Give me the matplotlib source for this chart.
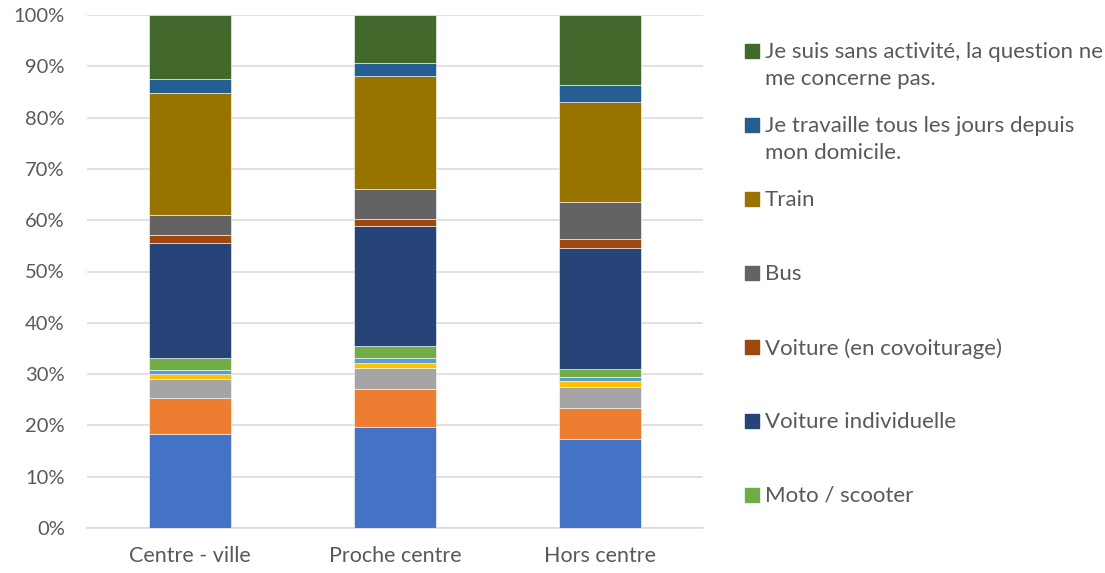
import numpy as np
import matplotlib
matplotlib.use("Agg")
import matplotlib.pyplot as plt
from matplotlib.patches import Rectangle

plt.rcParams['font.family'] = ['Lato', 'DejaVu Sans']

# categories (x axis)
categories = ['Centre - ville', 'Proche centre', 'Hors centre']

# series, bottom to top of each bar (share in %)
series_names = [
    'Marche à pied',
    'Vélo',
    'Trottinette',
    'Vélo à assistance électrique',
    'Tramway',
    'Moto / scooter',
    'Voiture individuelle',
    'Voiture (en covoiturage)',
    'Bus',
    'Train',
    'Je travaille tous les jours depuis\nmon domicile.',
    'Je suis sans activité, la question ne\nme concerne pas.',
]
series_values = [
    [18.4, 19.6, 17.3],
    [7.0, 7.4, 6.0],
    [3.6, 4.2, 4.2],
    [1.0, 1.0, 1.2],
    [0.8, 1.0, 0.7],
    [2.3, 2.3, 1.6],
    [22.5, 23.3, 23.6],
    [1.5, 1.4, 1.8],
    [4.0, 5.8, 7.2],
    [23.6, 22.2, 19.4],
    [2.9, 2.4, 3.3],
    [12.4, 9.4, 13.7],
]
series_colors = ['#4472C4', '#ED7D31', '#A5A5A5', '#FFC000', '#5B9BD5', '#70AD47',
                 '#264478', '#9E480E', '#636363', '#997300', '#255E91', '#43682B']

# only the last 7 series appear in the legend (top entry first)
n_legend = 7

text_col = '#595959'
grid_col = '#D9D9D9'

fig = plt.figure(figsize=(11.05, 5.73), dpi=100)
ax = fig.add_axes([87 / 1105, 1 - 528 / 573, 616 / 1105, 513 / 573])

x = np.arange(len(categories))
vals = np.array(series_values, dtype=float)
totals = vals.sum(axis=0)
shares = vals / totals  # normalise to 100%

bottom = np.zeros(len(categories))
for name, row, col in zip(series_names, shares, series_colors):
    ax.bar(x, row, 0.4, bottom=bottom, color=col, edgecolor='white',
           linewidth=0.4, label=name, zorder=3)
    bottom += row

ax.set_xlim(-0.5, len(categories) - 0.5)
ax.set_ylim(0, 1)
ax.set_yticks(np.arange(0, 1.01, 0.1))
ax.set_yticklabels([f'{int(round(t * 100))}%' for t in np.arange(0, 1.01, 0.1)])
ax.set_xticks(x)
ax.set_xticklabels(categories)

ax.yaxis.grid(True, color=grid_col, linewidth=1.1, zorder=0)
for s in ['top', 'right', 'left']:
    ax.spines[s].set_visible(False)
ax.spines['bottom'].set_color(grid_col)
ax.spines['bottom'].set_linewidth(1.1)
ax.tick_params(axis='both', length=0, labelcolor=text_col)
ax.tick_params(axis='y', pad=16, labelsize=14.5)
ax.tick_params(axis='x', pad=13, labelsize=15.5)

# legend drawn by hand so every entry gets the same slot, like Excel
leg_idx = list(range(len(series_names)))[::-1][:n_legend]
for k, i in enumerate(leg_idx):
    yc = 51 + 74.0 * k
    fig.patches.append(Rectangle((745 / 1105, 1 - (yc + 7) / 573), 14 / 1105, 14 / 573,
                                 transform=fig.transFigure, color=series_colors[i]))
    fig.text(765 / 1105, 1 - (yc - 9) / 573, series_names[i], fontsize=16,
             color=text_col, va='top', ha='left', linespacing=1.42)

fig.savefig('out.png', dpi=100)
